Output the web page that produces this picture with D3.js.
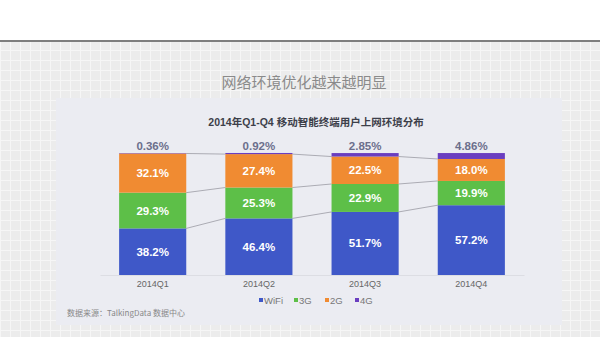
<!DOCTYPE html>
<html><head><meta charset="utf-8">
<script src="https://cdn.jsdelivr.net/npm/d3@7"></script>
<style>body{margin:0;background:#fff}svg{display:block}</style>
</head><body>
<script>
const quarters = ["2014Q1","2014Q2","2014Q3","2014Q4"];
const seriesNames = ["WiFi","3G","2G","4G"];
const wifi = [38.2, 46.4, 51.7, 57.2];
const g3 = [29.3, 25.3, 22.9, 19.9];
const g2 = [32.1, 27.4, 22.5, 18.0];
const g4 = [0.36, 0.92, 2.85, 4.86];
const labels4G = ["0.36%","0.92%","2.85%","4.86%"];
const colors = ["#3f58c8","#5dbf48","#f08b32","#6a3ec0"];

const W=600,H=337;
const svg=d3.select("body").append("svg").attr("width",W).attr("height",H);
const defs=svg.append("defs");
const pat=defs.append("pattern").attr("id","grid").attr("width",10).attr("height",10).attr("patternUnits","userSpaceOnUse");
pat.append("rect").attr("width",10).attr("height",10).attr("fill","#ececec");
pat.append("path").attr("d","M0 0.5H10M0.5 0V10").attr("stroke","#f6f6f6").attr("stroke-width",1);

svg.append("rect").attr("x",0).attr("y",0).attr("width",W).attr("height",41).attr("fill","#fff");
svg.append("rect").attr("x",0).attr("y",42).attr("width",W).attr("height",H-42).attr("fill","url(#grid)");
svg.append("rect").attr("x",0).attr("y",40).attr("width",W).attr("height",2).attr("fill","#7d7d7d");

svg.append("text").attr("x",304).attr("y",88).attr("text-anchor","middle")
  .attr("font-family","'Noto Sans CJK SC',sans-serif").attr("font-size",15).attr("fill","#8a8a8a")
  .text("网络环境优化越来越明显");

svg.append("rect").attr("x",56).attr("y",98).attr("width",506).attr("height",227).attr("fill","#ebecf2");

svg.append("text").attr("x",316).attr("y",126).attr("text-anchor","middle")
  .attr("font-family","'Liberation Sans','Noto Sans CJK SC',sans-serif").attr("font-weight","bold")
  .attr("font-size",10.5).attr("fill","#3d3f4a").text("2014年Q1-Q4 移动智能终端用户上网环境分布");

const x=d3.scaleBand().domain(quarters).range([100,524]).paddingInner(0.368).paddingOuter(0.18);
const y=d3.scaleLinear().domain([0,100]).range([275,153]);

const rows=quarters.map((q,i)=>({q,WiFi:wifi[i],"3G":g3[i],"2G":g2[i],"4G":g4[i]}));
const stack=d3.stack().keys(seriesNames)(rows);

const xAxis=d3.axisBottom(x).tickSize(0).tickPadding(6);
const ax=svg.append("g").attr("transform","translate(0,275)").call(xAxis);
ax.select(".domain").attr("stroke","#dcdde3").attr("stroke-width",1);
ax.selectAll("text").attr("font-family","'Liberation Sans',sans-serif").attr("font-size",9).attr("fill","#666");

const conn=svg.append("g").attr("stroke","#9a9ba3").attr("stroke-width",0.8).attr("fill","none");
[0,1,2].forEach(k=>{
  for(let i=0;i<quarters.length-1;i++){
    conn.append("line")
      .attr("x1",x(quarters[i])+x.bandwidth()).attr("y1",y(stack[k][i][1]))
      .attr("x2",x(quarters[i+1])).attr("y2",y(stack[k][i+1][1]));
  }
});

stack.forEach((s,k)=>{
  svg.append("g").attr("fill",colors[k]).selectAll("rect").data(s).join("rect")
    .attr("x",d=>x(d.data.q)).attr("width",x.bandwidth())
    .attr("y",d=>y(d[1])).attr("height",d=>y(d[0])-y(d[1]));
});

stack.slice(0,3).forEach((s,k)=>{
  svg.append("g").selectAll("text").data(s).join("text")
    .attr("x",d=>x(d.data.q)+x.bandwidth()/2).attr("y",d=>(y(d[0])+y(d[1]))/2+4)
    .attr("text-anchor","middle").attr("font-family","'Liberation Sans',sans-serif")
    .attr("font-weight","bold").attr("font-size",11.5).attr("fill","#fff")
    .text(d=>(d[1]-d[0]).toFixed(1)+"%");
});
svg.append("g").selectAll("text").data(quarters).join("text")
  .attr("x",d=>x(d)+x.bandwidth()/2).attr("y",150)
  .attr("text-anchor","middle").attr("font-family","'Liberation Sans',sans-serif")
  .attr("font-weight","bold").attr("font-size",11.5).attr("fill","#6b6f8c")
  .text((d,i)=>labels4G[i]);

const legX=[259,294,325,355];
const lg=svg.append("g");
seriesNames.forEach((n,i)=>{
  lg.append("rect").attr("x",legX[i]).attr("y",298).attr("width",4).attr("height",4).attr("fill",colors[i]);
  lg.append("text").attr("x",legX[i]+5).attr("y",303.5).attr("font-family","'Liberation Sans',sans-serif")
    .attr("font-size",9.5).attr("fill","#777").text(n);
});

svg.append("text").attr("x",67).attr("y",316).attr("font-family","'Noto Sans CJK SC',sans-serif")
  .attr("font-size",8).attr("fill","#888").text("数据来源：TalkingData 数据中心");
</script>
</body></html>
